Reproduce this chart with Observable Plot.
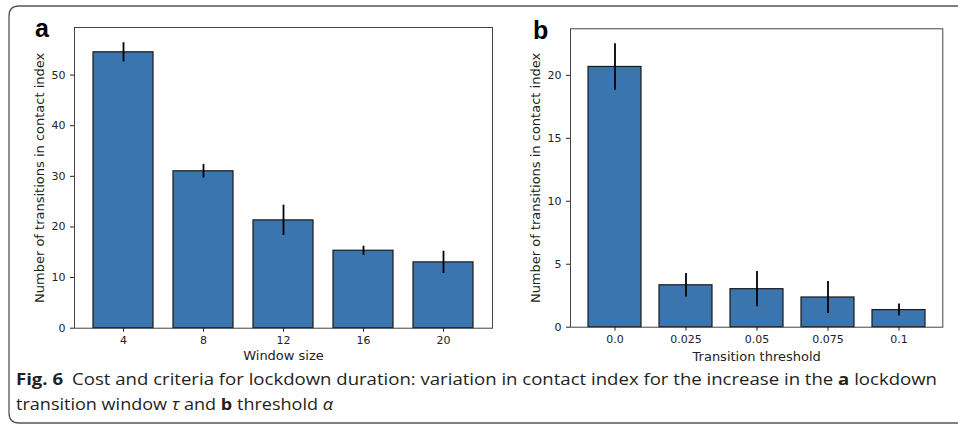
<!DOCTYPE html>
<html>
<head>
<meta charset="utf-8">
<script src="https://cdn.jsdelivr.net/npm/d3@7"></script>
<script src="https://cdn.jsdelivr.net/npm/@observablehq/plot@0.6"></script>
<style>
  body { margin: 0; background: #fff; }
  #wrap { position: relative; width: 958px; height: 425px; overflow: hidden; background: #fff; }
  .panel { position: absolute; top: 0; }
  .plab { position: absolute; font-family: "Liberation Sans", Arial, sans-serif; font-weight: bold; font-size: 25px; line-height: 1; }
  #overlay { position: absolute; left: 0; top: 0; }
</style>
</head>
<body>
<div id="wrap">
  <div id="pa" class="panel" style="left:0px"></div>
  <div id="pb" class="panel" style="left:500px"></div>
  <div class="plab" style="left:35px; top:16px">a</div>
  <div class="plab" style="left:533px; top:18px">b</div>
  <svg id="overlay" width="958" height="425"></svg>
</div>
<script>
// Panel a data
const windowSizes = ["4", "8", "12", "16", "20"];
const windowMeans = [54.5, 31.0, 21.3, 15.3, 13.0];
const windowErr = [1.9, 1.35, 3.0, 0.9, 2.2];
const windowTicksY = [0, 10, 20, 30, 40, 50];

// Panel b data
const thresholds = ["0.0", "0.025", "0.05", "0.075", "0.1"];
const thresholdMeans = [20.67, 3.33, 3.02, 2.36, 1.36];
const thresholdErr = [1.85, 0.94, 1.4, 1.27, 0.48];
const thresholdTicksY = [0, 5, 10, 15, 20];

const yLabel = "Number of transitions in contact index";
const barFill = "#3b75af";

function panel(cats, means, errs, ticks, yMax, xLabel, dims) {
  const data = cats.map((c, i) => ({c, m: means[i], lo: means[i] - errs[i], hi: means[i] + errs[i]}));
  return Plot.plot({
    width: dims.width,
    height: dims.height,
    marginLeft: dims.ml,
    marginRight: dims.mr,
    marginTop: dims.mt,
    marginBottom: dims.mb,
    style: {fontFamily: "DejaVu Sans, sans-serif", fontSize: "11px", color: "#222", background: "white"},
    x: {type: "band", domain: cats, paddingInner: 0.25, paddingOuter: 0.2375},
    y: {domain: [0, yMax]},
    marks: [
      Plot.barY(data, {x: "c", y: "m", fill: barFill, stroke: "#1a1a1a", strokeWidth: 1.2, insetLeft: 0, insetRight: 0}),
      Plot.ruleX(data, {x: "c", y1: "lo", y2: "hi", stroke: "#000", strokeWidth: 1.8}),
      Plot.frame({stroke: "#444", strokeWidth: 1}),
      Plot.axisY({ticks: ticks, tickSize: 4, tickPadding: 5, label: yLabel, labelAnchor: "center", labelArrow: "none", labelOffset: 40, fontSize: 11}),
      Plot.axisX({tickSize: 4, tickPadding: 4, label: xLabel, labelAnchor: "center", labelArrow: "none", labelOffset: dims.xlo, fontSize: 11})
    ]
  });
}

const a = panel(windowSizes, windowMeans, windowErr, windowTicksY, 59.4, "Window size",
  {width: 500, height: 368, ml: 74, mr: 8, mt: 27, mb: 40.3, xlo: 32});
document.getElementById("pa").appendChild(a);
const b = panel(thresholds, thresholdMeans, thresholdErr, thresholdTicksY, 23.7, "Transition threshold",
  {width: 458, height: 368, ml: 70, mr: 15.7, mt: 28.3, mb: 41.3, xlo: 34});
document.getElementById("pb").appendChild(b);

// Axis label font size bump
for (const svg of [a, b]) {
  svg.querySelectorAll("g[aria-label='y-axis label'] text, g[aria-label='x-axis label'] text").forEach(t => t.setAttribute("font-size", "13"));
}

// Border and caption
const ov = d3.select("#overlay");
ov.append("path")
  .attr("d", "M 970 6 L 19 6 Q 9 6 9 16 L 9 413 Q 9 423 19 423 L 970 423")
  .attr("fill", "none").attr("stroke", "#555").attr("stroke-width", 1.3);

const cap = ov.append("g").attr("font-family", "Open Sans, Noto Sans, sans-serif").attr("font-size", 16.5).attr("fill", "#231f20");
const t1 = cap.append("text").attr("x", 16).attr("y", 385).attr("textLength", 921).attr("lengthAdjust", "spacingAndGlyphs");
t1.append("tspan").attr("font-weight", "bold").text("Fig. 6");
t1.append("tspan").attr("dx", 8).text("Cost and criteria for lockdown duration: variation in contact index for the increase in the ");
t1.append("tspan").attr("font-weight", "bold").text("a");
t1.append("tspan").text(" lockdown");
const t2 = cap.append("text").attr("x", 16).attr("y", 410).attr("textLength", 317).attr("lengthAdjust", "spacingAndGlyphs");
t2.append("tspan").text("transition window ");
t2.append("tspan").attr("font-style", "italic").text("τ");
t2.append("tspan").text(" and ");
t2.append("tspan").attr("font-weight", "bold").text("b");
t2.append("tspan").text(" threshold ");
t2.append("tspan").attr("font-style", "italic").text("α");
</script>
</body>
</html>
